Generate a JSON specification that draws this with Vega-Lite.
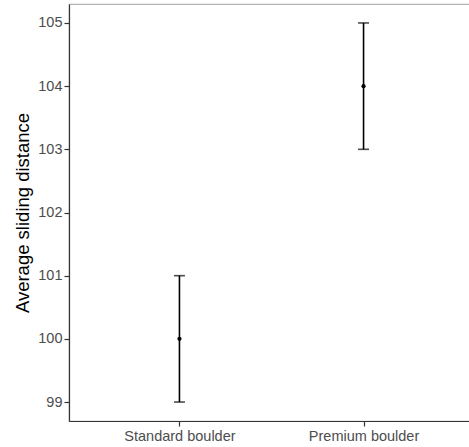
{
  "$schema": "https://vega.github.io/schema/vega-lite/v6.json",
  "autosize": {"type": "none"},
  "padding": {"left": 69, "top": 4, "right": 0, "bottom": 26},
  "width": 405,
  "height": 417,
  "background": "white",
  "config": {
    "view": {"stroke": "#b3b3b3", "strokeWidth": 1.2},
    "font": "Liberation Sans",
    "axis": {
      "grid": false,
      "domainColor": "#333333",
      "domainWidth": 1.2,
      "tickColor": "#333333",
      "tickWidth": 1.2,
      "tickSize": 5,
      "labelColor": "#4d4d4d",
      "labelFontSize": 14.5,
      "labelFont": "Liberation Sans",
      "labelPadding": 2,
      "titleFont": "Liberation Sans",
      "titleFontWeight": "normal",
      "titleColor": "black",
      "titleFontSize": 18.5
    }
  },
  "data": {
    "values": [
      {"group": "Standard boulder", "mean": 100, "lower": 99, "upper": 101},
      {"group": "Premium boulder", "mean": 104, "lower": 103, "upper": 105}
    ]
  },
  "encoding": {
    "x": {
      "field": "group",
      "type": "nominal",
      "sort": ["Standard boulder", "Premium boulder"],
      "scale": {"type": "point", "padding": 0.6},
      "axis": {"title": null, "labelAngle": 0, "labelPadding": 3}
    }
  },
  "layer": [
    {
      "mark": {"type": "rule", "color": "black", "strokeWidth": 1.6},
      "encoding": {
        "y": {
          "field": "lower",
          "type": "quantitative",
          "scale": {"domain": [98.7, 105.3], "nice": false, "zero": false},
          "axis": {"title": "Average sliding distance", "values": [99, 100, 101, 102, 103, 104, 105], "format": "d", "titlePadding": 5}
        },
        "y2": {"field": "upper"}
      }
    },
    {
      "mark": {"type": "tick", "color": "black", "thickness": 1.6, "size": 11, "orient": "horizontal"},
      "encoding": {"y": {"field": "lower", "type": "quantitative"}}
    },
    {
      "mark": {"type": "tick", "color": "black", "thickness": 1.6, "size": 11, "orient": "horizontal"},
      "encoding": {"y": {"field": "upper", "type": "quantitative"}}
    },
    {
      "mark": {"type": "point", "filled": true, "color": "black", "size": 18, "opacity": 1},
      "encoding": {"y": {"field": "mean", "type": "quantitative"}}
    }
  ]
}
